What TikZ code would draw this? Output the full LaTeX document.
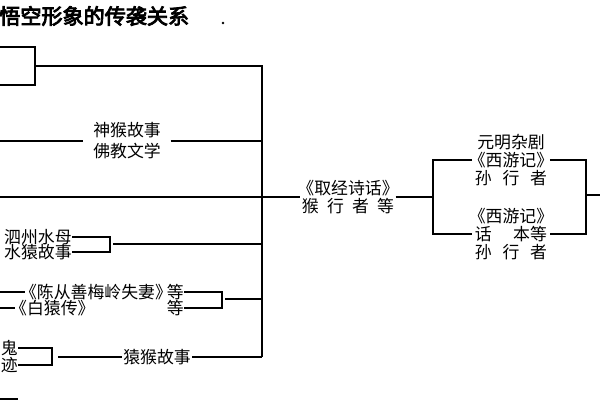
\documentclass[tikz,border=0pt]{standalone}
\usepackage{fontspec}
\newfontfamily\cjk[AutoFakeBold=4]{Noto Sans CJK SC}
\tikzset{TXnode/.style={inner sep=0pt,font=\cjk\fontsize{12}{12.8}\selectfont,align=center}}
\tikzset{LNline/.style={line width=1pt}}
\tikzset{BXnode/.style={draw,line width=1.3pt,minimum width=1.5cm,minimum height=.95cm}}
\newcommand{\shu}[1]{\kern-.3em《#1》\kern-.3em}
\newcommand{\spr}[2]{\makebox[#1][s]{#2}}

\begin{document}
\begin{tikzpicture}[x=0.025cm,y=-0.025cm]
	\useasboundingbox (0,0) rectangle (600,400);
	\clip (0,0) rectangle (600,400);
	%
	\node[TXnode,anchor=west,font=\cjk\bfseries\fontsize{15}{15}\selectfont] (title) at (-1,16) {悟空形象的传袭关系};
	\node[circle,fill,inner sep=.7pt] (dot) at (223,23) {};
	\node[BXnode] (box) at (5,66) {};
	\node[BXnode,anchor=north east,minimum height=1cm] (box2) at (18,398) {};
	%
	\node[TXnode,inner xsep=.24cm] (shen) at (127,141) {神猴故事\\[2pt]佛教文学};
	\node[TXnode,inner xsep=1pt] (qj) at (348,197) {\shu{取经诗话}\\\spr{2.3cm}{猴\hfill 行\hfill 者\hfill 等}};
	\node[TXnode,inner xsep=1pt] (xy1) at (511,160) {元明杂剧\\\shu{西游记}\\\spr{1.8cm}{孙\hfill 行\hfill 者}};
	\node[TXnode,inner xsep=1pt] (xy2) at (511,234) {\shu{西游记}\\\spr{1.8cm}{话\hfill 本等}\\\spr{1.8cm}{孙\hfill 行\hfill 者}};
	\node[TXnode,anchor=east] (sz1) at (72,237) {泗州水母};
	\node[TXnode,anchor=east] (sz2) at (72,252) {水猿故事};
	\node[TXnode,anchor=east] (chen) at (184,292) {\shu{陈从善梅岭失妻}等};
	\node[TXnode,anchor=west] (bai) at (15,308) {\shu{白猿传}};
	\node[TXnode,anchor=east] (deng) at (184,308) {等};
	\node[TXnode,anchor=east] (gui) at (18,348) {鬼};
	\node[TXnode,anchor=east] (ji) at (18,365) {迹};
	\node[TXnode,inner xsep=1pt] (yh) at (157,357) {猿猴故事};
	%
	\coordinate (Vt) at (262,67);
	\coordinate (Vb) at (262,357);
	\coordinate (J1) at (433,197);
	\coordinate (J2) at (586,195);
	\coordinate (a1) at (-5,141);
	\coordinate (a2) at (-5,197);
	\coordinate (a3) at (-5,292);
	\coordinate (a4) at (-5,308);
	\coordinate (r1) at (610,195);
	\coordinate (s3) at (113,244);
	\coordinate (c3) at (225,299);
	\coordinate (g3) at (58,357);
	%
	\draw[LNline] (box.east) -| (Vb);
	\draw[LNline] (xy1.west) -| (J1) |- (xy2.west);
	\draw[LNline] (xy1.east) -| (J2) |- (xy2.east);
	\draw[LNline] (sz1.east) -- ++(38,0) |- (sz2.east);
	\draw[LNline] (chen.east) -- ++(38,0) |- (deng.east);
	\draw[LNline] (gui.east) -- ++(34,0) |- (ji.east);
	\path[LNline]
	(a1) edge (shen.west)
	(shen.east) edge (shen.east -| Vt)
	(a2) edge (qj.west)
	(qj.east) edge (J1)
	(J2) edge (r1)
	(s3) edge (s3 -| Vt)
	(a3) edge (chen.west)
	(a4) edge (bai.west)
	(c3) edge (c3 -| Vt)
	(g3) edge (yh.west)
	(yh.east) edge (Vb);
\end{tikzpicture}
\end{document}
